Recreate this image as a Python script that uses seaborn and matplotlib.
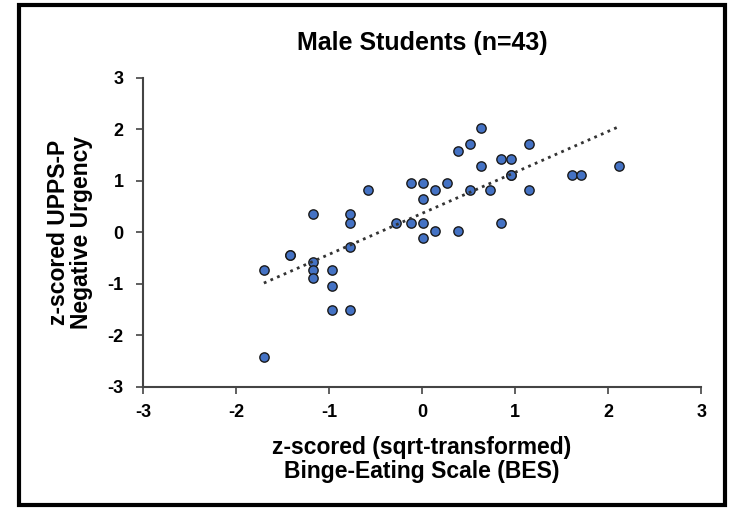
import numpy as np
import pandas as pd
import matplotlib.pyplot as plt
import seaborn as sns

# Values
bes_z = [-1.70, -1.70, -1.415, -1.415, -1.175, -1.175, -1.175, -1.175,
         -0.97, -0.97, -0.97, -0.775, -0.775, -0.775, -0.775, -0.58,
         -0.28, -0.12, -0.12, 0.01, 0.01, 0.01, 0.01, 0.14, 0.14,
         0.27, 0.39, 0.39, 0.51, 0.51, 0.63, 0.63, 0.73, 0.85, 0.85,
         0.96, 0.96, 0.96, 1.15, 1.15, 1.61, 1.71, 2.12]
urgency_z = [-0.74, -2.42, -0.43, -0.43, 0.35, -0.58, -0.74, -0.89,
             -0.74, -1.04, -1.50, -1.50, -0.28, 0.18, 0.36, 0.82,
             0.18, 0.18, 0.96, 0.96, 0.64, 0.18, -0.11, 0.82, 0.03,
             0.96, 1.58, 0.03, 1.72, 0.82, 2.03, 1.28, 0.82, 1.43, 0.18,
             1.43, 1.11, 1.11, 1.72, 0.82, 1.11, 1.11, 1.28]

df = pd.DataFrame({'BES': bes_z, 'Urgency': urgency_z})

sns.set_style('ticks')
plt.rcParams['font.family'] = ['Liberation Sans', 'DejaVu Sans']
plt.rcParams['font.weight'] = 'bold'
plt.rcParams['axes.unicode_minus'] = False
plt.rcParams['text.color'] = 'black'
plt.rcParams['axes.labelcolor'] = 'black'
plt.rcParams['xtick.color'] = 'black'
plt.rcParams['ytick.color'] = 'black'

fig = plt.figure(figsize=(7.29, 5.09), dpi=100)
ax = fig.add_axes([0.196, 0.240, 0.766, 0.607])

sns.regplot(data=df, x='BES', y='Urgency', ci=None, ax=ax,
            scatter_kws={'s': 45, 'color': '#4472C4', 'edgecolor': '#1a1a1a',
                         'linewidths': 1.0, 'alpha': 1},
            line_kws={'color': '#333333', 'linestyle': (0, (1, 1.6)), 'linewidth': 2.0})

ax.set_xlim(-3, 3)
ax.set_ylim(-3, 3)
ax.set_xticks([-3, -2, -1, 0, 1, 2, 3])
ax.set_yticks([-3, -2, -1, 0, 1, 2, 3])
sns.despine(ax=ax)
for s in ['left', 'bottom']:
    ax.spines[s].set_color('#444444')
    ax.spines[s].set_linewidth(1.5)
ax.tick_params(direction='out', length=5, width=1.2, color='#444444',
               labelsize=13)
ax.tick_params(axis='y', pad=9)
ax.tick_params(axis='x', pad=7)
for lab in ax.get_xticklabels() + ax.get_yticklabels():
    lab.set_fontweight('bold')

ax.set_title('Male Students (n=43)', fontsize=18, fontweight='bold', pad=20)
ax.set_xlabel('z-scored (sqrt-transformed)\nBinge-Eating Scale (BES)',
              fontsize=16.5, fontweight='bold', labelpad=11, linespacing=1.05)
ax.set_ylabel('z-scored UPPS-P\nNegative Urgency',
              fontsize=16.5, fontweight='bold', labelpad=10, linespacing=1.0)

# black frame around the whole figure
fig.patches.append(plt.Rectangle((0.026, 0.008), 0.968, 0.982, transform=fig.transFigure,
                                 fill=False, edgecolor='black', linewidth=3))

fig.savefig('out.png', dpi=100)
